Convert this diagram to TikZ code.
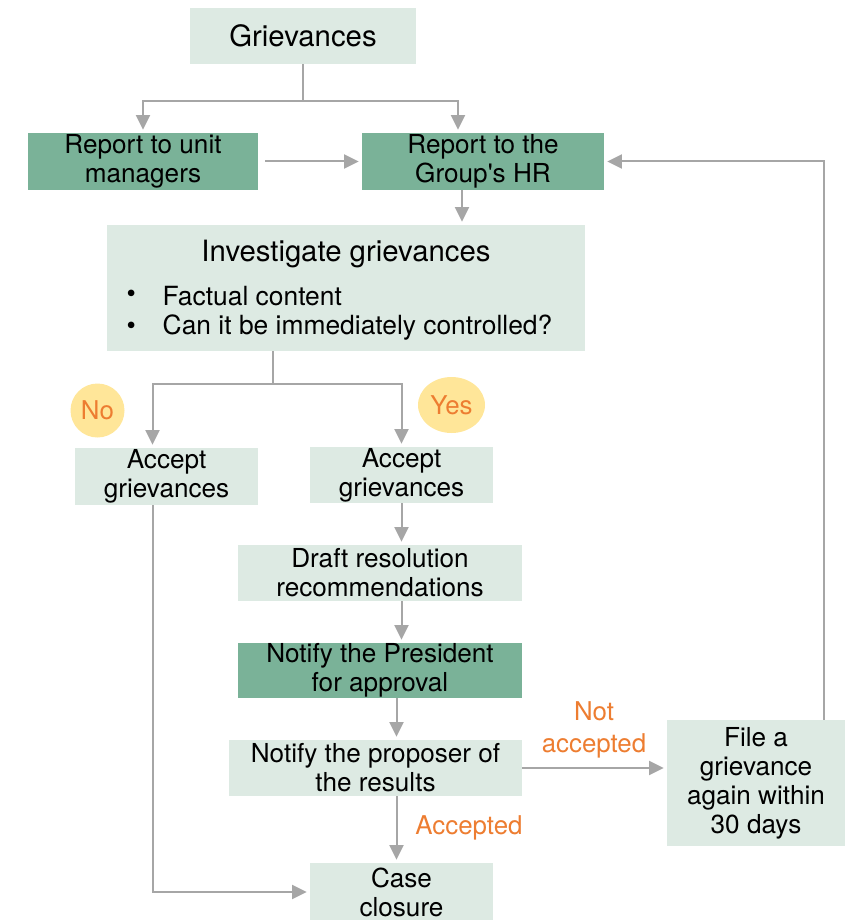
\documentclass[tikz,border=0pt]{standalone}
\usepackage{fontspec}
\setmainfont{TeX Gyre Heros}
\usetikzlibrary{arrows.meta,shapes.geometric}

\definecolor{boxlight}{HTML}{DDEAE3}
\definecolor{boxdark}{HTML}{7AB298}
\definecolor{arrowgray}{HTML}{A6A6A6}
\definecolor{notegold}{HTML}{FFE699}
\definecolor{noteorange}{HTML}{ED7D31}

\tikzset{
  light/.style={fill=boxlight, inner sep=0pt, align=center,
    font=\fontsize{19.6}{21.75}\selectfont},
  dark/.style={light, fill=boxdark},
  line/.style={draw=arrowgray, line width=1.5pt},
  flow/.style={line, -{Triangle[length=11pt,width=10.5pt]}, shorten >=2.25pt},
  answer/.style={text=noteorange, align=center,
    font=\fontsize{19.4}{24}\selectfont},
}

\begin{document}
\begin{tikzpicture}[x=0.75pt, y=-0.75pt]
  \useasboundingbox (0,0) rectangle (845,920);
  % Boxes
  \node[light, minimum width=169.5pt, minimum height=42pt] (griev) at (303,36)
    {\fontsize{22}{26}\selectfont Grievances};
  \node[dark, minimum width=172.5pt, minimum height=42.75pt] (unit) at (143,161.5)
    {Report to unit\\managers};
  \node[dark, minimum width=181.5pt, minimum height=42.75pt] (hr) at (483,161.5)
    {Report to the\\Group\textquotesingle s HR};
  \node[light, minimum width=358.5pt, minimum height=94.5pt] (inv) at (346,288) {};
  \node[font=\fontsize{22}{26}\selectfont] (invtitle) at (346,254) {Investigate grievances};
  \node[anchor=west, font=\fontsize{19.8}{24}\selectfont] (bulletA) at (122,296) {\textbullet};
  \node[anchor=west, font=\fontsize{19.8}{24}\selectfont] (factA) at (158,296) {Factual content};
  \node[anchor=west, font=\fontsize{19.8}{24}\selectfont] (bulletB) at (122,328) {\textbullet};
  \node[anchor=west, font=\fontsize{19.8}{24}\selectfont] (factB) at (158,328)
    {Can it be immediately controlled?};
  \node[light, minimum width=137.25pt, minimum height=42.75pt] (accL) at (166.5,476.5)
    {Accept\\grievances};
  \node[light, minimum width=137.25pt, minimum height=42pt] (accR) at (401.5,475)
    {Accept\\grievances};
  \node[light, minimum width=213pt, minimum height=42pt] (draft) at (380,573)
    {Draft resolution\\recommendations};
  \node[dark, minimum width=213pt, minimum height=41.25pt] (pres) at (380,670.5)
    {Notify the President\\for approval};
  \node[light, minimum width=219.75pt, minimum height=42pt] (prop) at (375.5,768)
    {Notify the proposer of\\the results};
  \node[light, minimum width=133.5pt, minimum height=94.5pt] (file) at (756,783)
    {File a\\grievance\\again within\\30 days};
  \node[light, minimum width=137.25pt, minimum height=43.5pt] (case) at (401.5,892)
    {Case\\closure};
  % Yes / No bubbles
  \node[circle, fill=notegold, minimum size=40.5pt, inner sep=0pt, answer] (no) at (97.5,410.5) {No};
  \node[ellipse, fill=notegold, minimum width=50.25pt, minimum height=42pt, inner sep=0pt, answer] (yes) at (451.5,405) {Yes};
  % Connectors
  \coordinate (split1) at (303,101);
  \coordinate (split2) at (273,384);
  \draw[line] (griev.south) -- (split1);
  \draw[flow] (split1) -| (unit.north);
  \draw[flow] (split1) -| ([xshift=-18.75pt]hr.north);
  \draw[flow, shorten <=5.25pt] (unit.east |- hr.west) -- (hr.west);
  \draw[flow] ([xshift=-15.75pt]hr.south) -- ([xshift=-15.75pt]hr.south |- inv.north);
  \draw[line] (inv.south -| split2) -- (split2);
  \draw[flow] (split2) -| ([xshift=-10.5pt]accL.north);
  \draw[flow] (split2) -| (accR.north);
  \draw[flow] (accR.south) -- (accR.south |- draft.north);
  \draw[flow] (draft.south -| accR.south) -- (pres.north -| accR.south);
  \draw[flow] ([xshift=-3.75pt]pres.south -| case.north) -- ([xshift=-3.75pt]prop.north -| case.north);
  \draw[flow] ([xshift=-3.75pt]prop.south -| case.north) -- ([xshift=-3.75pt]case.north);
  \draw[flow] (prop.east) -- (prop.east -| file.west);
  \draw[flow] ([xshift=51pt]file.north) |- (hr.east);
  \draw[flow] ([xshift=-10.5pt]accL.south) |- (case.west);
  % Outcome labels
  \node[answer] (notacc) at (594,730) {Not\\accepted};
  \node[answer] (acc) at (469,828) {Accepted};
\end{tikzpicture}
\end{document}
